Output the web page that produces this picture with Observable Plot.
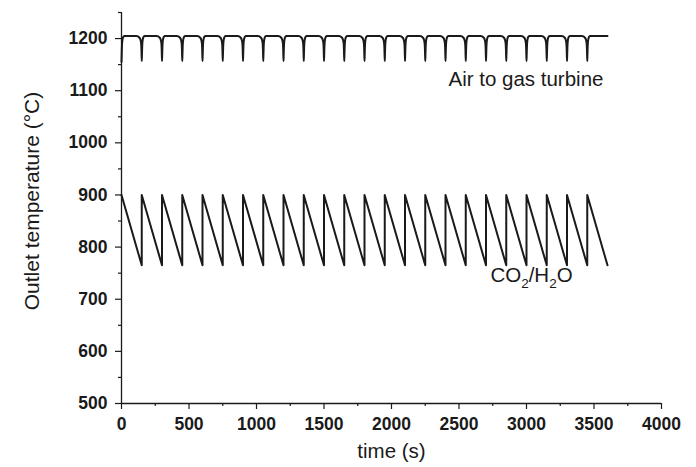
<!DOCTYPE html>
<html>
<head>
<meta charset="utf-8">
<script src="https://cdn.jsdelivr.net/npm/d3@7"></script>
<script src="https://cdn.jsdelivr.net/npm/@observablehq/plot@0.6"></script>
<style>
  body { margin: 0; background: #fff; }
</style>
</head>
<body>
<div id="chart"></div>
<script>
// ---- data ----
const xTicks = [0, 500, 1000, 1500, 2000, 2500, 3000, 3500, 4000];
const xMinorTicks = [250, 750, 1250, 1750, 2250, 2750, 3250, 3750];
const yTicks = [500, 600, 700, 800, 900, 1000, 1100, 1200];
const yMinorTicks = [550, 650, 750, 850, 950, 1050, 1150, 1250];

// CO2/H2O sawtooth: cycle start/end times (s), peak and trough temperatures
const cycleStarts = [0, 150, 300, 450, 600, 750, 900, 1050, 1200, 1350, 1500, 1650,
  1800, 1950, 2100, 2250, 2400, 2550, 2700, 2850, 3000, 3150, 3300, 3450];
const cycleEnds = [150, 300, 450, 600, 750, 900, 1050, 1200, 1350, 1500, 1650, 1800,
  1950, 2100, 2250, 2400, 2550, 2700, 2850, 3000, 3150, 3300, 3450, 3600];
const co2Peak = 900;
const co2Trough = 765;

// Air to gas turbine: dips at each switching time (shape of one dip)
const dipTimes = [150, 300, 450, 600, 750, 900, 1050, 1200, 1350, 1500, 1650, 1800,
  1950, 2100, 2250, 2400, 2550, 2700, 2850, 3000, 3150, 3300, 3450];
const dipOffsets = [-40, -28, -18, -11, -7, -4, -2, 0, 1.5, 3, 5, 8, 13, 20];
const dipValues  = [1205, 1204, 1202, 1199, 1195, 1189, 1177, 1157, 1170, 1183, 1193, 1199, 1203, 1205];
const airStartTime = 0, airStartValue = 1155;
const airEndTime = 3600, airEndValue = 1205;

// ---- build tables ----
const co2 = [];
cycleStarts.forEach((s, i) => {
  co2.push({t: s, v: co2Peak});
  co2.push({t: cycleEnds[i], v: co2Trough});
});

const air = [{t: airStartTime, v: airStartValue}];
dipOffsets.forEach((o, j) => { if (o > 0) air.push({t: o, v: dipValues[j]}); });
dipTimes.forEach(d => dipOffsets.forEach((o, j) => air.push({t: d + o, v: dipValues[j]})));
air.push({t: airEndTime, v: airEndValue});

const ink = "#1a1a1a";
const font = "'Liberation Sans', Arial, Helvetica, sans-serif";

const chart = Plot.plot({
  width: 696,
  height: 467,
  marginLeft: 121,
  marginRight: 35,
  marginTop: 12,
  marginBottom: 64,
  style: {fontFamily: font, color: ink, background: "#fff", overflow: "visible"},
  x: {domain: [0, 4000], label: null},
  y: {domain: [500, 1250], label: null},
  marks: [
    Plot.axisX(xMinorTicks, {tickSize: 3, tickFormat: () => "", label: null, stroke: ink, strokeWidth: 1.2}),
    Plot.axisX(xTicks, {tickSize: 6, tickPadding: 8, tickFormat: d => String(d), label: null,
      fontSize: 17.5, fontWeight: "bold", stroke: ink, strokeWidth: 1.2}),
    Plot.axisY(yMinorTicks, {tickSize: 3, tickFormat: () => "", label: null, stroke: ink, strokeWidth: 1.2}),
    Plot.axisY(yTicks, {tickSize: 6, tickPadding: 8, tickFormat: d => String(d), label: null,
      fontSize: 17.5, fontWeight: "bold", stroke: ink, strokeWidth: 1.2}),
    Plot.ruleX([0], {stroke: ink, strokeWidth: 1.3}),
    Plot.ruleY([500], {stroke: ink, strokeWidth: 1.3}),
    Plot.line(air, {x: "t", y: "v", stroke: ink, strokeWidth: 2, curve: "monotone-x"}),
    Plot.line(co2, {x: "t", y: "v", stroke: ink, strokeWidth: 2}),
    Plot.text(["Air to gas turbine"], {x: 2996, y: 1121, fontSize: 20.5, fill: ink}),
    Plot.text(["CO2/H2O"], {x: 3037, y: 745, fontSize: 20.5, fill: ink}),
    Plot.text(["Outlet temperature (°C)"], {frameAnchor: "left", textAnchor: "middle", lineAnchor: "middle",
      rotate: -90, dx: -89, dy: -7, fontSize: 21, fill: ink}),
    Plot.text(["time (s)"], {frameAnchor: "bottom", lineAnchor: "middle", dy: 48, fontSize: 20.5, fill: ink})
  ]
});

document.getElementById("chart").appendChild(chart);

// subscripts for CO2/H2O
d3.select(chart).selectAll("text").filter(function() { return this.textContent === "CO2/H2O"; })
  .each(function() {
    const t = d3.select(this);
    t.text(null);
    const parts = [["CO", 0, null], ["2", 6, 13.5], ["/H", -6, null], ["2", 6, 13.5], ["O", -6, null]];
    parts.forEach(([s, dy, fs]) => {
      const ts = t.append("tspan").attr("dy", dy).text(s);
      if (fs) ts.attr("font-size", fs);
    });
  });
</script>
</body>
</html>
